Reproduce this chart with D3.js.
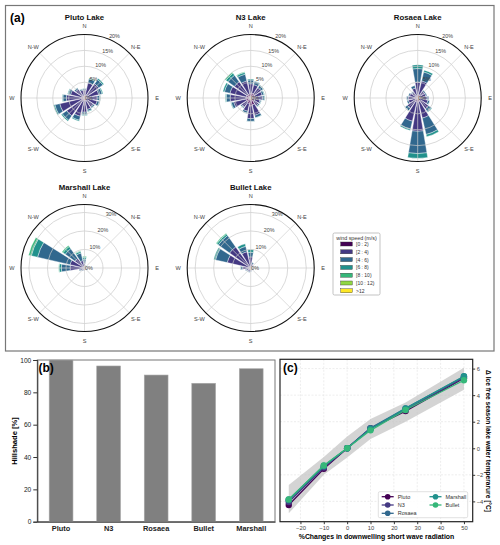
<!DOCTYPE html>
<html>
<head>
<meta charset="utf-8">
<script src="https://cdn.jsdelivr.net/npm/d3@7"></script>
<style>
  body { margin: 0; background: #fff; }
  svg text { font-family: "Liberation Sans", Arial, sans-serif; }
</style>
</head>
<body>
<svg id="chart" width="500" height="545"></svg>
<script>
// ---- (a) wind roses: % frequency per 22.5 deg sector, N first then clockwise,
// each sector stacked by wind speed class
const speedClasses = ["[0 : 2)", "[2 : 4)", "[4 : 6)", "[6 : 8)", "[8 : 10)", "[10 : 12)", ">12"];
const compassLabels = ["N", "N-E", "E", "S-E", "S", "S-W", "W", "N-W"];
const lakeTitles = ["Pluto Lake", "N3 Lake", "Rosaea Lake", "Marshall Lake", "Bullet Lake"];

const plutoRose = [
  [0.8, 1.7, 0.4, 0.1], [0.9, 4.0, 1.3, 0.3], [0.9, 4.6, 1.6, 0.4], [0.9, 3.7, 1.1, 0.3],
  [0.8, 3.2, 0.8, 0.2], [0.8, 3.3, 0.7, 0.2], [0.8, 2.6, 0.5, 0.1], [0.8, 2.9, 0.6, 0.2],
  [0.9, 3.6, 0.8, 0.2], [0.9, 5.0, 1.3, 0.3], [0.9, 6.0, 1.7, 0.4], [1.0, 7.0, 1.6, 0.4],
  [0.9, 4.8, 1.1, 0.2], [0.8, 3.7, 0.8, 0.2], [0.8, 2.6, 0.5, 0.1], [0.7, 1.8, 0.4, 0.1]
];
const n3Rose = [
  [1.5, 3.0, 1.2, 0.3], [1.5, 2.8, 1.0, 0.2], [1.5, 2.5, 0.8, 0.2], [1.4, 2.3, 0.6, 0.2],
  [1.4, 2.3, 0.6, 0.2], [1.3, 1.7, 0.4, 0.1], [1.4, 1.6, 0.4, 0.1], [2.2, 3.4, 0.8, 0.1],
  [2.5, 4.0, 0.9, 0.1], [1.8, 2.5, 0.6, 0.1], [1.5, 2.0, 0.4, 0.1], [1.5, 4.0, 0.8, 0.2],
  [1.5, 5.0, 1.2, 0.3], [1.4, 5.3, 1.8, 0.5], [1.3, 5.0, 2.5, 0.8, 0.4], [1.3, 4.2, 2.2, 0.6, 0.2]
];
const rosaeaRose = [
  [1.0, 4.0, 4.3, 1.2], [1.0, 4.5, 2.9, 0.6], [0.8, 1.8, 0.4], [0.8, 1.8, 0.4],
  [0.9, 2.1, 0.5], [0.9, 2.4, 0.6, 0.1], [1.0, 3.2, 1.1, 0.2], [1.2, 5.3, 5.3, 0.7],
  [1.3, 9.2, 7.0, 1.5], [1.2, 6.3, 2.6, 0.4], [1.0, 3.0, 0.9, 0.1], [0.9, 2.1, 0.5],
  [0.9, 2.1, 0.5], [0.8, 1.8, 0.4], [0.8, 1.4, 0.3], [0.9, 2.3, 0.8]
];
const marshallRose = [
  [0.5, 2.0, 2.3, 1.0, 0.5], [0.4, 0.8, 0.3], [0.4, 0.5, 0.1], [0.4, 0.5, 0.1],
  [0.4, 0.5, 0.1], [0.4, 0.5, 0.1], [0.4, 0.5, 0.1], [0.4, 0.5, 0.1],
  [0.5, 0.8, 0.2], [0.5, 0.8, 0.2], [0.5, 1.1, 0.4], [0.6, 1.6, 0.8],
  [0.8, 7.0, 4.7, 1.3, 0.2], [1.0, 7.0, 18.0, 3.5, 1.5], [0.8, 5.5, 6.5, 1.5, 0.7], [0.6, 3.5, 4.2, 0.9, 0.3]
];
const bulletRose = [
  [0.8, 5.2, 2.5, 1.5], [0.5, 1.8, 0.7], [0.4, 0.8, 0.3], [0.4, 0.5, 0.1],
  [0.4, 0.5, 0.1], [0.4, 0.5, 0.1], [0.4, 0.6, 0.2], [0.5, 0.8, 0.2],
  [0.5, 1.2, 0.3], [0.6, 1.5, 0.4], [0.6, 1.5, 0.4], [0.6, 1.8, 0.6],
  [0.8, 3.5, 1.2, 0.2], [1.0, 12.0, 6.5, 1.0], [1.0, 13.0, 7.5, 1.0, 0.5], [0.8, 8.2, 3.0, 1.4]
];
const topRoseTicks = [0, 5, 10, 15, 20];
const bottomRoseTicks = [0, 10, 20, 30];

// ---- (b) hillshade
const hillLakes = ["Pluto", "N3", "Rosaea", "Bullet", "Marshall"];
const hillshade = [100, 96.3, 90.7, 85.6, 94.6];
const hillTicks = [0, 20, 40, 60, 80, 100];

// ---- (c) temperature response
const radChange = [-25, -10, 0, 10, 25, 50];
const seriesNames = ["Pluto", "N3", "Rosaea", "Marshall", "Bullet"];
const plutoTemp = [-4.27, -1.55, 0, 1.5, 2.8, 5.28];
const n3Temp = [-4.05, -1.45, 0, 1.5, 2.9, 5.32];
const rosaeaTemp = [-3.92, -1.38, 0, 1.52, 3.0, 5.4];
const marshallTemp = [-3.85, -1.32, 0, 1.45, 3.0, 5.42];
const bulletTemp = [-3.85, -1.3, 0, 1.35, 2.88, 5.12];
const bandLow = [-4.9, -2.0, -0.7, 0.7, 2.0, 4.4];
const bandHigh = [-2.77, -0.65, 0.88, 2.2, 3.44, 6.07];
const xTicksC = [-20, -10, 0, 10, 20, 30, 40, 50];
const yTicksC = [-4, -2, 0, 2, 4, 6];

const svg = d3.select("#chart");
const speedColors = speedClasses.map((d, i) => d3.interpolateViridis(i / (speedClasses.length - 1)));

// panel (a) frame
svg.append("rect").attr("x", 5.5).attr("y", 5.5).attr("width", 488.5).attr("height", 345.5)
  .attr("fill", "none").attr("stroke", "#777").attr("stroke-width", 1.2);
svg.append("text").attr("x", 10).attr("y", 21.5).attr("font-size", 12).attr("font-weight", "bold").text("(a)");

const ROSE_R = 63.5;
const OPENING = 0.85;

function drawRose(rose, cx, cy, rmax, ticks, title) {
  const r = d3.scaleLinear().domain([0, rmax]).range([0, ROSE_R]);
  const step = 2 * Math.PI / rose.length;
  const half = step * OPENING / 2;
  const arc = d3.arc();
  const g = svg.append("g").attr("transform", `translate(${cx},${cy})`);

  rose.forEach((sector, i) => {
    let cum = 0;
    sector.forEach((v, k) => {
      g.append("path")
        .attr("d", arc({ innerRadius: r(cum), outerRadius: r(cum + v), startAngle: i * step - half, endAngle: i * step + half }))
        .attr("fill", speedColors[k])
        .attr("stroke", "#fff")
        .attr("stroke-width", 0.4);
      cum += v;
    });
  });

  // grid sits above the bars like matplotlib
  ticks.filter(t => t > 0 && t < rmax).forEach(t => {
    g.append("circle").attr("r", r(t)).attr("fill", "none")
      .attr("stroke", "#c8c8c8").attr("stroke-width", 0.7);
  });
  compassLabels.forEach((lab, i) => {
    const a = i * Math.PI / 4;
    g.append("line")
      .attr("x1", 0).attr("y1", 0)
      .attr("x2", ROSE_R * Math.sin(a)).attr("y2", -ROSE_R * Math.cos(a))
      .attr("stroke", "#cfcfcf").attr("stroke-width", 0.7);
    g.append("text")
      .attr("x", (ROSE_R + 9) * Math.sin(a)).attr("y", -(ROSE_R + 9) * Math.cos(a))
      .attr("text-anchor", "middle").attr("dominant-baseline", "central")
      .attr("font-size", 5.6).attr("fill", "#444").text(lab);
  });
  g.append("circle").attr("r", ROSE_R).attr("fill", "none").attr("stroke", "#111").attr("stroke-width", 1.1);

  const la = 26 * Math.PI / 180;
  ticks.forEach(t => {
    const d = t === 0 ? 4 : r(t) + 5;
    g.append("text")
      .attr("x", t === 0 ? 4.5 : d * Math.sin(la)).attr("y", t === 0 ? -0.5 : -d * Math.cos(la))
      .attr("text-anchor", "middle").attr("dominant-baseline", "central")
      .attr("font-size", 5.4).attr("fill", "#444").text(t + "%");
  });

  svg.append("text").attr("x", cx).attr("y", cy - 78)
    .attr("text-anchor", "middle").attr("font-size", 7.8).attr("font-weight", "bold")
    .attr("fill", "#111").text(title);
}

const colX = [84.5, 250.7, 417.7];
const rowY = [98, 268];
drawRose(plutoRose, colX[0], rowY[0], 20, topRoseTicks, lakeTitles[0]);
drawRose(n3Rose, colX[1], rowY[0], 20, topRoseTicks, lakeTitles[1]);
drawRose(rosaeaRose, colX[2], rowY[0], 20, topRoseTicks, lakeTitles[2]);
drawRose(marshallRose, colX[0], rowY[1], 34.3, bottomRoseTicks, lakeTitles[3]);
drawRose(bulletRose, colX[1], rowY[1], 34.3, bottomRoseTicks, lakeTitles[4]);

// speed legend
const lg = svg.append("g");
lg.append("rect").attr("x", 333).attr("y", 233).attr("width", 47).attr("height", 62).attr("rx", 1.5)
  .attr("fill", "#fff").attr("stroke", "#aaa").attr("stroke-width", 0.7);
lg.append("text").attr("x", 356.5).attr("y", 239.5).attr("text-anchor", "middle")
  .attr("font-size", 5.3).attr("fill", "#333").text("wind speed (m/s)");
speedClasses.forEach((lab, i) => {
  const yy = 244 + i * 7.8;
  lg.append("rect").attr("x", 340.7).attr("y", yy - 2).attr("width", 11.6).attr("height", 4)
    .attr("fill", speedColors[i]).attr("stroke", "#333").attr("stroke-width", 0.4);
  lg.append("text").attr("x", 356).attr("y", yy).attr("dominant-baseline", "central")
    .attr("font-size", 5).attr("fill", "#333").text(lab);
});

// ---- panel (b)
const bx = d3.scaleBand().domain(hillLakes).range([37.3, 275]).paddingInner(0.5).paddingOuter(0.25);
const by = d3.scaleLinear().domain([0, 100]).range([521.7, 360]);
const gb = svg.append("g");
gb.append("rect").attr("x", 37.3).attr("y", 360).attr("width", 275 - 37.3).attr("height", 521.7 - 360)
  .attr("fill", "none").attr("stroke", "#777").attr("stroke-width", 1);
gb.selectAll(".bar").data(hillLakes).join("rect")
  .attr("x", d => bx(d)).attr("width", bx.bandwidth())
  .attr("y", (d, i) => by(hillshade[i])).attr("height", (d, i) => by(0) - by(hillshade[i]))
  .attr("fill", "#808080").attr("stroke", "#a8a8a8").attr("stroke-width", 0.6);
const yAxB = gb.append("g").attr("transform", "translate(37.3,0)")
  .call(d3.axisLeft(by).tickValues(hillTicks).tickSize(4).tickPadding(2));
const xAxB = gb.append("g").attr("transform", "translate(0,521.7)")
  .call(d3.axisBottom(bx).tickSize(0).tickPadding(4));
[yAxB, xAxB].forEach(a => {
  a.select(".domain").attr("stroke", "#333").attr("stroke-width", 1);
  a.selectAll(".tick line").attr("stroke", "#333");
  a.selectAll("text").attr("fill", "#222").style("font-family", "Liberation Sans, Arial, sans-serif");
});
yAxB.selectAll("text").attr("font-size", 6.6);
xAxB.selectAll("text").attr("font-size", 7.4).attr("font-weight", "bold");
gb.append("text").attr("transform", "translate(14,441) rotate(-90)").attr("text-anchor", "middle")
  .attr("dominant-baseline", "central").attr("font-size", 7.6).attr("font-weight", "bold").text("Hillshade [%]");
gb.append("text").attr("x", 38.5).attr("y", 372).attr("font-size", 12).attr("font-weight", "bold").text("(b)");

// ---- panel (c)
const cx0 = 280, cx1 = 472.7, cy0 = 359.3, cy1 = 521.7;
const xc = d3.scaleLinear().domain([-28.75, 53.75]).range([cx0, cx1]);
const yc = d3.scaleLinear().domain([-5.53, 6.7]).range([cy1, cy0]);
const gc = svg.append("g");
xTicksC.forEach(t => gc.append("line").attr("x1", xc(t)).attr("x2", xc(t)).attr("y1", cy0).attr("y2", cy1)
  .attr("stroke", "#e0e0e0").attr("stroke-width", 0.6).attr("stroke-dasharray", "2,1.5"));
yTicksC.forEach(t => gc.append("line").attr("x1", cx0).attr("x2", cx1).attr("y1", yc(t)).attr("y2", yc(t))
  .attr("stroke", "#e0e0e0").attr("stroke-width", 0.6).attr("stroke-dasharray", "2,1.5"));

const band = d3.area().x((d, i) => xc(radChange[i])).y0((d, i) => yc(bandLow[i])).y1((d, i) => yc(bandHigh[i]));
gc.append("path").attr("d", band(radChange)).attr("fill", "#bdbdbd").attr("opacity", 0.65);

const seriesTemps = [plutoTemp, n3Temp, rosaeaTemp, marshallTemp, bulletTemp];
const seriesColors = seriesNames.map((d, i) => d3.interpolateViridis(i / 6));
const line = d3.line().x((d, i) => xc(radChange[i])).y(d => yc(d));
seriesTemps.forEach((s, k) => {
  gc.append("path").attr("d", line(s)).attr("fill", "none").attr("stroke", seriesColors[k]).attr("stroke-width", 1.3);
  s.forEach((v, i) => gc.append("circle").attr("cx", xc(radChange[i])).attr("cy", yc(v)).attr("r", 3.2)
    .attr("fill", seriesColors[k]));
});

gc.append("rect").attr("x", cx0).attr("y", cy0).attr("width", cx1 - cx0).attr("height", cy1 - cy0)
  .attr("fill", "none").attr("stroke", "#222").attr("stroke-width", 1.2);
const xAxC = gc.append("g").attr("transform", `translate(0,${cy1})`)
  .call(d3.axisBottom(xc).tickValues(xTicksC).tickSize(2.5).tickPadding(1.5).tickFormat(d3.format("")));
const yAxC = gc.append("g").attr("transform", `translate(${cx1},0)`)
  .call(d3.axisRight(yc).tickValues(yTicksC).tickSize(2.5).tickPadding(1.5).tickFormat(d3.format("")));
[xAxC, yAxC].forEach(a => {
  a.select(".domain").remove();
  a.selectAll(".tick line").attr("stroke", "#333");
  a.selectAll("text").attr("fill", "#444").attr("font-size", 5.8).style("font-family", "Liberation Sans, Arial, sans-serif");
});
gc.append("text").attr("x", 376.5).attr("y", 538.5).attr("text-anchor", "middle")
  .attr("font-size", 6.9).attr("font-weight", "bold").text("%Changes in downwelling short wave radiation");
gc.append("text").attr("transform", "translate(488,441) rotate(90)").attr("text-anchor", "middle")
  .attr("dominant-baseline", "central").attr("font-size", 6.6).attr("font-weight", "bold")
  .text("Δ Ice free season lake water temperarure [°C]");
gc.append("text").attr("x", 283).attr("y", 372).attr("font-size", 12).attr("font-weight", "bold").text("(c)");

// legend (c)
const lc = gc.append("g");
lc.append("rect").attr("x", 378.3).attr("y", 491.7).attr("width", 89.4).attr("height", 26).attr("rx", 1.5)
  .attr("fill", "#fff").attr("fill-opacity", 0.85).attr("stroke", "#ccc").attr("stroke-width", 0.6);
seriesNames.forEach((name, k) => {
  const col = k < 3 ? 0 : 1;
  const row = k < 3 ? k : k - 3;
  const x0 = col === 0 ? 381.7 : 429.5;
  const yy = 496.7 + row * 8.3;
  lc.append("line").attr("x1", x0).attr("x2", x0 + 12).attr("y1", yy).attr("y2", yy)
    .attr("stroke", seriesColors[k]).attr("stroke-width", 1.3);
  lc.append("circle").attr("cx", x0 + 6).attr("cy", yy).attr("r", 2.8).attr("fill", seriesColors[k]);
  lc.append("text").attr("x", x0 + 16).attr("y", yy).attr("dominant-baseline", "central")
    .attr("font-size", 5.5).attr("fill", "#333").text(name);
});
</script>
</body>
</html>
